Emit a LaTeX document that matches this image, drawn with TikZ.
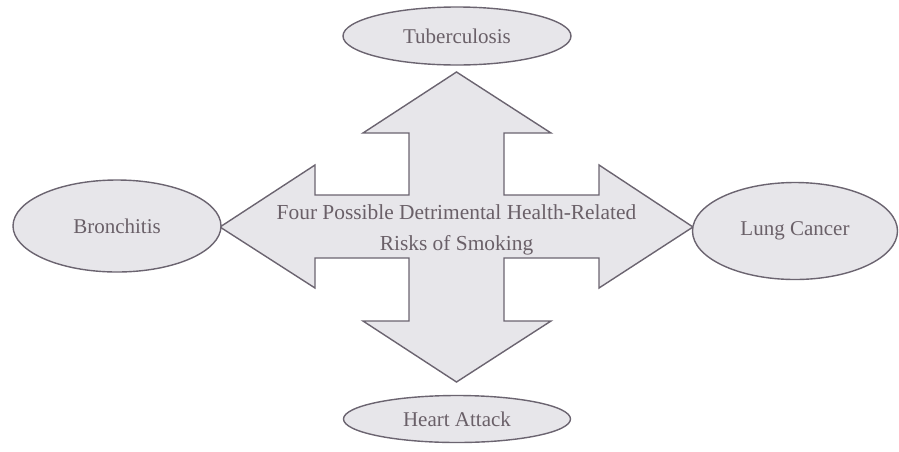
\documentclass[tikz,border=0pt]{standalone}
\usepackage{fontspec}
\setmainfont{Liberation Serif}
\usepackage{xcolor}
\usepackage{tikz}
\usetikzlibrary{shapes.geometric}
\definecolor{riskfill}{HTML}{E7E6EA}
\definecolor{riskline}{HTML}{6B6470}
\definecolor{risktext}{HTML}{6A6068}

\begin{document}
\begin{tikzpicture}[
  x=0.5pt, y=-0.5pt,
  risk/.style={draw=riskline, fill=riskfill, ellipse, line width=0.7pt,
               inner sep=0pt, text=risktext, font=\fontsize{10.5}{12}\selectfont},
  cross/.style={draw=riskline, fill=riskfill, line width=0.7pt, line join=miter},
]
\useasboundingbox (0,0) rectangle (899,451);

% four-way arrow
\draw[cross] (456.5,72) -- (551,133) -- (504,133) -- (504,195) -- (599,195)
  -- (599,165) -- (693,227) -- (599,288) -- (599,258) -- (504,258)
  -- (504,321) -- (551,321) -- (456.5,382) -- (363,321) -- (409,321)
  -- (409,258) -- (315,258) -- (315,288) -- (220,227) -- (315,165)
  -- (315,195) -- (409,195) -- (409,133) -- (363,133) -- cycle;

\node[align=center, text=risktext, font=\fontsize{10.7}{15.5}\selectfont] (center) at (456.5,230)
  {Four Possible Detrimental Health-Related\\ Risks of Smoking};

\node[risk, minimum width=114pt, minimum height=29pt] (tb) at (457,36) {Tuberculosis};
\node[risk, minimum width=104pt, minimum height=46pt] (bron) at (117,226) {Bronchitis};
\node[risk, minimum width=102.5pt, minimum height=48.5pt] (lung) at (795,231) {Lung Cancer};
\node[risk, minimum width=113.5pt, minimum height=23.5pt] (heart) at (457,419) {Heart Attack};
\end{tikzpicture}
\end{document}
